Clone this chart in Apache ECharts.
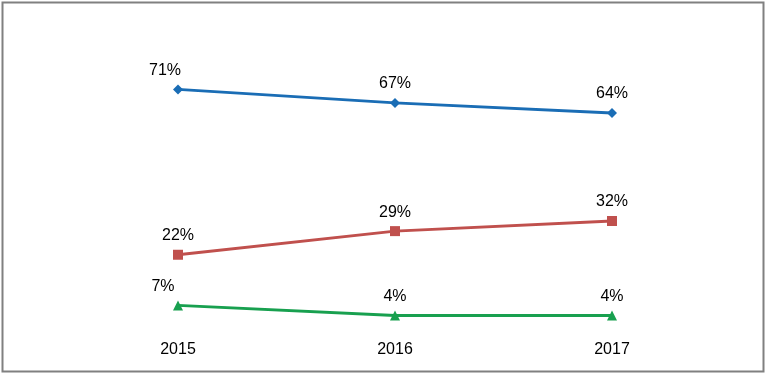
<!DOCTYPE html>
<html><head><meta charset="utf-8">
<script src="https://cdn.jsdelivr.net/npm/echarts@6/dist/echarts.min.js"></script>
<style>html,body{margin:0;padding:0;background:#fff}#c{width:770px;height:375px}</style>
</head><body><div id="c"></div>
<script>
const categories = ['2015', '2016', '2017'];
const seriesBlue = [71, 67, 64];
const seriesRed = [22, 29, 32];
const seriesGreen = [7, 4, 4];
const yMin = 0, yMax = 80;

const chart = echarts.init(document.getElementById('c'), null, {renderer: 'canvas'});
const font = {fontFamily: 'Liberation Sans', fontSize: 16, color: '#000'};
function mk(name, data, color, symbol, size, offsets) {
  return {
    name, type: 'line', data: data.map((v, i) => ({value: v, label: {offset: offsets[i]}})),
    symbol, symbolSize: size,
    lineStyle: {color, width: 3},
    itemStyle: {color},
    label: Object.assign({show: true, position: 'top', distance: 6, formatter: '{c}%'}, font),
    animation: false
  };
}
chart.setOption({
  backgroundColor: '#fff',
  graphic: [{type: 'rect', shape: {x: 2.5, y: 2.5, width: 761, height: 369}, style: {fill: 'none', stroke: '#808080', lineWidth: 2}}],
  grid: {left: 69.5, right: 49.5, top: 59, bottom: 46},
  xAxis: {type: 'category', data: categories, boundaryGap: true,
    axisLine: {show: false}, axisTick: {show: false},
    axisLabel: Object.assign({margin: 13}, font)},
  yAxis: {type: 'value', min: yMin, max: yMax, show: false, splitLine: {show: false}},
  series: [
    mk('a', seriesBlue, '#1A6DB5', 'diamond', 10, [[-13, 0], [0, 0], [0, 0]]),
    mk('b', seriesRed, '#C0504D', 'rect', 10, [[0, 0], [0, 0], [0, 0]]),
    mk('c', seriesGreen, '#18A04F', 'triangle', 10, [[-15, 0], [0, 0], [0, 0]])
  ]
});
</script></body></html>
